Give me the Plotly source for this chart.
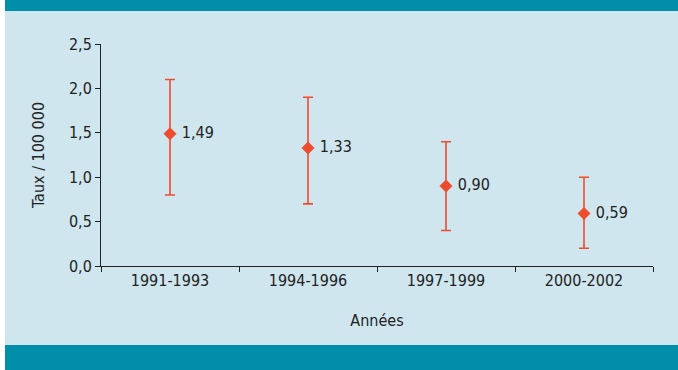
import plotly.graph_objects as go

categories = ["1991-1993", "1994-1996", "1997-1999", "2000-2002"]
rates = [1.49, 1.33, 0.90, 0.59]
ci_low = [0.80, 0.70, 0.40, 0.20]
ci_high = [2.10, 1.90, 1.40, 1.00]
y_ticks = [0, 0.5, 1.0, 1.5, 2.0, 2.5]
y_ticklabels = ["0,0", "0,5", "1,0", "1,5", "2,0", "2,5"]

W, H = 678, 370
ML, MR, MT, MB = 101, 25, 44, 104
pw, ph = W - ML - MR, H - MT - MB

def px_x(p):
    return (p - ML) / pw

def px_y(p):
    return (H - MB - p) / ph

FONT = "DejaVu Sans Condensed, sans-serif"
FS = 16
RED = "#ef4c2e"
TEAL = "#008ea8"
LIGHT = "#cfe6ee"

fig = go.Figure()
fig.add_trace(go.Scatter(
    x=categories, y=rates,
    mode="markers+text",
    marker=dict(symbol="diamond", size=10, color=RED),
    error_y=dict(type="data", symmetric=False,
                 array=[h - r for h, r in zip(ci_high, rates)],
                 arrayminus=[r - l for r, l in zip(rates, ci_low)],
                 color=RED, thickness=1.6, width=5),
    text=[" " + f"{r:.2f}".replace(".", ",") for r in rates],
    textposition="middle right",
    textfont=dict(family=FONT, size=FS, color="#222222"),
    showlegend=False,
    cliponaxis=False,
    hoverinfo="skip",
))

shapes = [
    dict(type="rect", xref="paper", yref="paper", x0=px_x(0), x1=px_x(W), y0=px_y(H), y1=px_y(0),
         fillcolor=LIGHT, line_width=0, layer="below"),
    dict(type="rect", xref="paper", yref="paper", x0=px_x(0), x1=px_x(5), y0=px_y(H), y1=px_y(0),
         fillcolor="white", line_width=0, layer="below"),
    dict(type="rect", xref="paper", yref="paper", x0=px_x(5), x1=px_x(W), y0=px_y(11), y1=px_y(0),
         fillcolor=TEAL, line_width=0, layer="below"),
    dict(type="rect", xref="paper", yref="paper", x0=px_x(5), x1=px_x(W), y0=px_y(H), y1=px_y(345),
         fillcolor=TEAL, line_width=0, layer="below"),
]

fig.update_layout(
    width=W, height=H,
    margin=dict(l=ML, r=MR, t=MT, b=MB),
    paper_bgcolor=LIGHT, plot_bgcolor=LIGHT,
    font=dict(family=FONT, size=FS, color="#222222"),
    shapes=shapes,
    xaxis=dict(
        type="category", range=[-0.5, 3.5], tickson="boundaries",
        ticks="outside", ticklen=5, tickcolor="#222222",
        showline=True, linecolor="#222222", linewidth=1,
        showgrid=False, zeroline=False,
        title=dict(text="Années", standoff=25, font=dict(size=FS)),
    ),
    yaxis=dict(
        range=[0, 2.5], tickvals=y_ticks, ticktext=y_ticklabels,
        ticks="outside", ticklen=5, tickcolor="#222222",
        showline=True, linecolor="#222222", linewidth=1,
        showgrid=False, zeroline=False,
        title=dict(text="Taux / 100 000", standoff=20, font=dict(size=FS)),
    ),
)

fig.write_html("out.html", config={"displayModeBar": False},
               post_script="document.body.style.margin='0px';document.body.style.overflow='hidden';")
